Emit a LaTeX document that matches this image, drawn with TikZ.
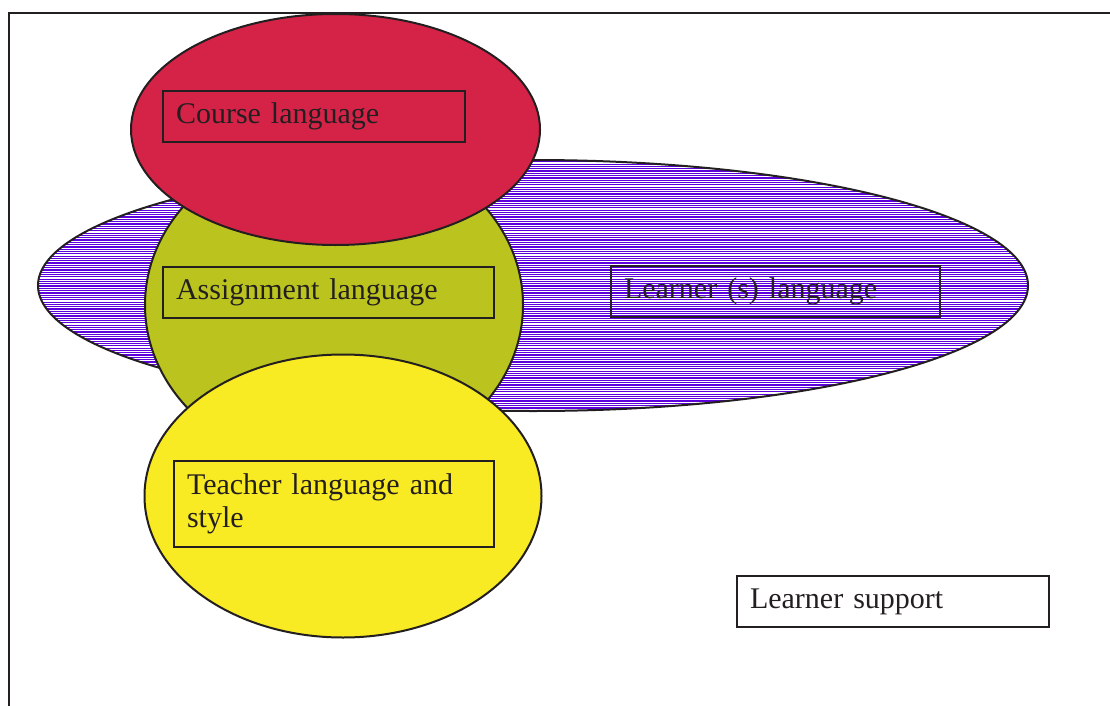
\documentclass[tikz,border=0pt]{standalone}
\usepackage{fontspec}
\setmainfont{Liberation Serif}
\usetikzlibrary{shapes.geometric}
\definecolor{inkc}{HTML}{231F20}
\definecolor{redc}{HTML}{D52348}
\definecolor{olivec}{HTML}{BBC41E}
\definecolor{yellowc}{HTML}{F8EA23}
\definecolor{stripec}{HTML}{5E00DC}
\tikzset{
  oval/.style={ellipse, draw=inkc, line width=2pt, inner sep=0pt, outer sep=0pt},
  labelbox/.style={rectangle, draw=inkc, line width=2.2pt, anchor=north west, inner xsep=13pt, inner ysep=0pt, outer sep=0pt, align=left, text=inkc, font=\fontsize{30}{33}\selectfont},
  frameline/.style={draw=inkc, line width=2.2pt},
  stripe/.style={draw=stripec, line width=1.2pt}
}
\begin{document}
\begin{tikzpicture}[x=1pt,y=-1pt]
\useasboundingbox (0,0) rectangle (1110,706);
\draw[frameline] (9,706) -- (9,13) -- (1112,13);
% striped ellipse
\begin{scope}
  \clip (533,285.5) ellipse [x radius=495pt, y radius=125.5pt];
  \foreach \yy in {159.5,161.8,...,413} \draw[stripe] (36,\yy) -- (1030,\yy);
\end{scope}
\node[oval, minimum width=990pt, minimum height=251pt] (learner) at (533,285.5) {};
\node[oval, fill=olivec, minimum width=378pt, minimum height=326pt] (assign) at (334,305) {};
\node[oval, fill=redc, minimum width=409pt, minimum height=231pt] (course) at (335.5,129.5) {};
\node[oval, fill=yellowc, minimum width=397pt, minimum height=283pt] (teacher) at (343,496) {};
% label boxes
\node[labelbox, minimum height=51pt, text width=276pt] (coursebox) at (163,91) {\raisebox{-2pt}{Course language}};
\node[labelbox, minimum height=51pt, text width=305pt] (assignbox) at (163,267) {\raisebox{-2pt}{Assignment language}};
\node[labelbox, minimum height=51pt, text width=303pt] (learnerbox) at (611,266) {\raisebox{-2pt}{Learner (s) language}};
\node[labelbox, minimum height=86pt, text width=294pt] (teacherbox) at (174,461) {Teacher language and\\style};
\node[labelbox, minimum height=51pt, text width=286pt] (supportbox) at (737,576) {\raisebox{-2pt}{Learner support}};
\end{tikzpicture}
\end{document}
